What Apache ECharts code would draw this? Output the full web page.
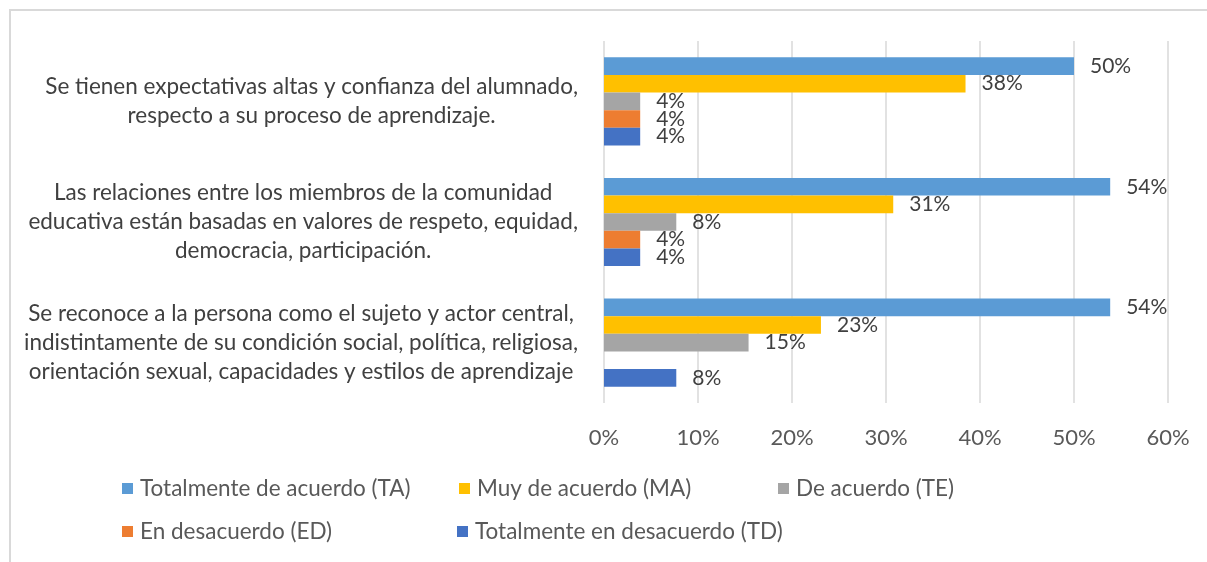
<!DOCTYPE html>
<html>
<head>
<meta charset="utf-8">
<script src="https://cdn.jsdelivr.net/npm/echarts@6/dist/echarts.min.js"></script>
<style>
  html, body { margin: 0; padding: 0; background: #fff; }
  #frame { position: absolute; left: 9px; top: 9px; width: 1210px; height: 560px;
           border-top: 2px solid #d9d9d9; border-left: 2px solid #d9d9d9; }
  #chart { position: absolute; left: 0; top: 0; width: 1207px; height: 562px; }
</style>
</head>
<body>
<div id="frame"></div>
<div id="chart"></div>
<script>
// Categories, top to bottom (lines as shown in the chart)
const categories = [
  ["Se tienen expectativas altas y confianza del alumnado,", "respecto a su proceso de aprendizaje."],
  ["Las relaciones entre los miembros de la comunidad", "educativa están basadas en valores de respeto, equidad,", "democracia, participación."],
  ["Se reconoce a la persona como el sujeto y actor central,", "indistintamente de su condición social, política, religiosa,", "orientación sexual, capacidades y estilos de aprendizaje"]
];
const seriesNames = [
  "Totalmente de acuerdo (TA)",
  "Muy de acuerdo (MA)",
  "De acuerdo (TE)",
  "En desacuerdo (ED)",
  "Totalmente en desacuerdo (TD)"
];
// Values in percent, one per category (top to bottom)
const valuesTA = [50.0, 53.85, 53.85];
const valuesMA = [38.46, 30.77, 23.08];
const valuesTE = [3.85, 7.69, 15.38];
const valuesED = [3.85, 3.85, null];
const valuesTD = [3.85, 3.85, 7.69];
const xTicks = [0, 10, 20, 30, 40, 50, 60];

const colors = ["#5B9BD5", "#FFC000", "#A5A5A5", "#ED7D31", "#4472C4"];
const allValues = [valuesTA, valuesMA, valuesTE, valuesED, valuesTD];
const FONT = "Lato";
const FS = 22.5;

const chart = echarts.init(document.getElementById('chart'));
const catKeys = categories.map(c => c.join('\n'));

const legendPos = [[122, 477], [459, 477], [778, 477], [122, 520], [457, 520]];

const option = {
  animation: false,
  backgroundColor: 'transparent',
  grid: { left: 604, right: 39, top: 41, bottom: 159, containLabel: false },
  legend: seriesNames.map((n, i) => ({
    data: [n],
    left: legendPos[i][0],
    top: legendPos[i][1],
    padding: 0,
    icon: 'rect',
    itemWidth: 11,
    itemHeight: 11,
    selectedMode: false,
    textStyle: { fontFamily: FONT, fontSize: FS, color: '#595959', padding: [0, 0, 0, 2] }
  })),
  xAxis: {
    type: 'value',
    min: xTicks[0],
    max: xTicks[xTicks.length - 1],
    interval: 10,
    axisLine: { show: false },
    axisTick: { show: false },
    splitLine: { lineStyle: { color: '#d9d9d9', width: 1.5 } },
    axisLabel: {
      formatter: v => v + '%',
      fontFamily: FONT, fontSize: 22, color: '#595959', margin: 24
    }
  },
  yAxis: {
    type: 'category',
    inverse: true,
    data: catKeys,
    axisLine: { show: false },
    axisTick: { show: false },
    axisLabel: {
      margin: 26,
      align: 'right',
      formatter: v => v.split('\n').map(l => '{c|' + l + '}').join('\n'),
      rich: {
        c: { fontFamily: FONT, fontSize: FS, color: '#404040', align: 'center', lineHeight: 29 }
      }
    }
  },
  series: seriesNames.map((n, i) => ({
    name: n,
    type: 'bar',
    data: allValues[i],
    barGap: 0,
    barCategoryGap: '27%',
    itemStyle: { color: colors[i] },
    label: {
      show: true,
      position: 'right',
      distance: 16,
      formatter: p => (p.value == null ? '' : Math.round(p.value) + '%'),
      fontFamily: FONT, fontSize: 21, color: '#404040'
    }
  }))
};
chart.setOption(option);
</script>
</body>
</html>
